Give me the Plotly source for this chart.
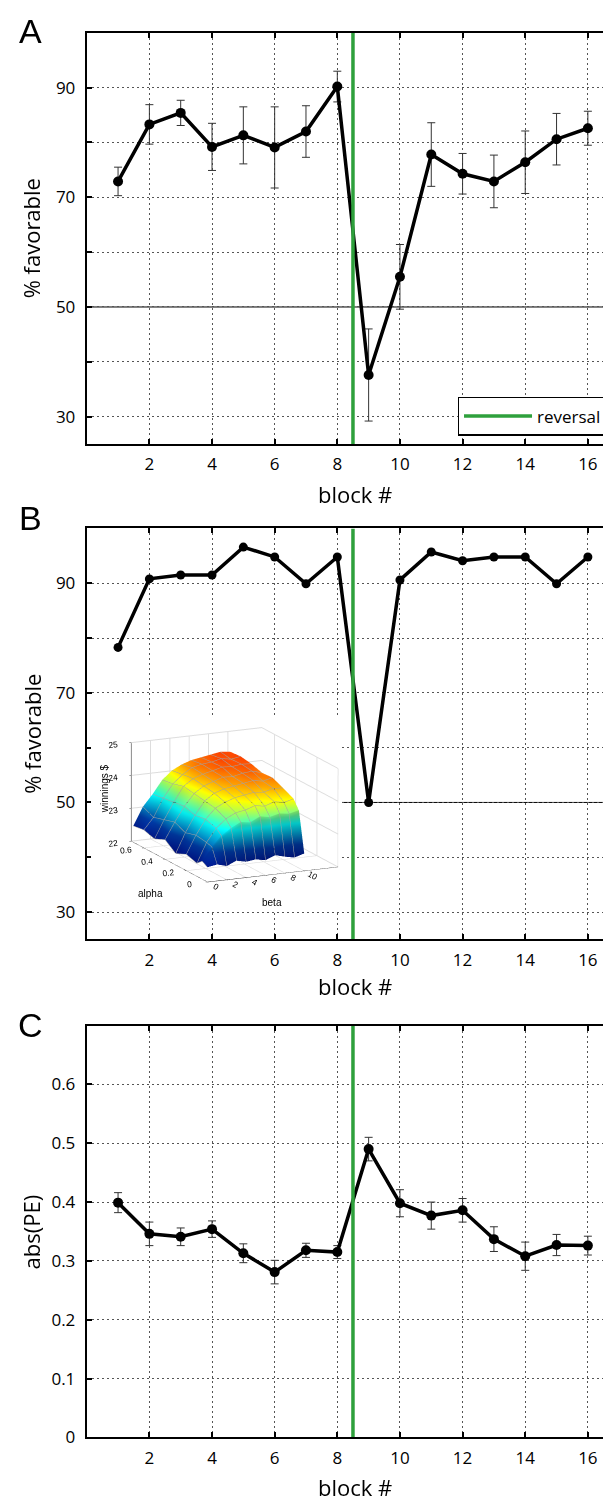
import plotly.graph_objects as go

# ---------------- data ----------------
blocks = list(range(1, 17))
pct_fav_A = [72.9, 83.3, 85.4, 79.2, 81.3, 79.1, 82.0, 90.2, 37.6, 55.5, 77.8, 74.3, 72.9, 76.4, 80.6, 82.6]
err_A = [2.6, 3.6, 2.3, 4.3, 5.2, 7.4, 4.7, 2.8, 8.4, 5.9, 5.8, 3.7, 4.8, 5.7, 4.7, 3.1]
pct_fav_B = [78.3, 90.8, 91.5, 91.5, 96.6, 94.8, 89.9, 94.8, 50.0, 90.6, 95.7, 94.1, 94.8, 94.8, 89.9, 94.8]
abs_pe_C = [0.399, 0.346, 0.341, 0.354, 0.313, 0.281, 0.318, 0.315, 0.490, 0.398, 0.377, 0.386, 0.337, 0.308, 0.327, 0.326]
err_C = [0.017, 0.020, 0.015, 0.014, 0.016, 0.020, 0.012, 0.011, 0.020, 0.023, 0.023, 0.020, 0.021, 0.024, 0.018, 0.016]

reversal_block = 8.5
chance_level = 50
x_ticks = [2, 4, 6, 8, 10, 12, 14, 16]
pct_ticks = [30, 40, 50, 60, 70, 80, 90]
pct_ticktext = ["30", "", "50", "", "70", "", "90"]
pe_ticks = [0, 0.1, 0.2, 0.3, 0.4, 0.5, 0.6]
pe_ticktext = ["0", "0.1", "0.2", "0.3", "0.4", "0.5", "0.6"]

# inset surface: winnings ($) over alpha (rows) x beta (columns)
inset_alpha = [0.0, 0.05, 0.1, 0.2, 0.3, 0.4, 0.5, 0.6, 0.7]
inset_beta = [0, 1, 2, 3, 4, 5, 6, 7, 8, 9, 10]
inset_winnings = [
    [22.45, 22.50, 22.42, 22.55, 22.48, 22.52, 22.46, 22.58, 22.50, 22.44, 22.53],
    [22.55, 22.95, 23.25, 23.45, 23.60, 23.55, 23.70, 23.65, 23.72, 23.68, 23.75],
    [22.40, 23.00, 23.40, 23.65, 23.80, 23.85, 23.95, 23.90, 24.00, 23.95, 24.02],
    [22.50, 23.05, 23.50, 23.80, 23.95, 24.05, 24.10, 24.15, 24.12, 24.20, 24.18],
    [22.35, 22.95, 23.45, 23.85, 24.05, 24.15, 24.20, 24.25, 24.30, 24.25, 24.32],
    [22.60, 23.10, 23.55, 23.90, 24.10, 24.20, 24.30, 24.28, 24.35, 24.38, 24.30],
    [22.45, 23.00, 23.50, 23.95, 24.15, 24.25, 24.32, 24.40, 24.38, 24.42, 24.40],
    [22.55, 22.90, 23.45, 23.85, 24.10, 24.28, 24.35, 24.38, 24.45, 24.40, 24.45],
    [22.50, 23.05, 23.40, 23.80, 24.05, 24.20, 24.30, 24.35, 24.40, 24.45, 24.42],
]

# ---------------- layout constants ----------------
W, H = 611, 1504
FONT = "Open Sans"
GREEN = "rgb(46,160,60)"
X_RANGE = [0, 16.93]
PCT_RANGE = [25, 100]
PE_RANGE = [0, 0.7]

def ydom(top_px, bot_px):
    return [1 - bot_px / H, 1 - top_px / H]

x_dom = [79 / W, 1.0]
dom_A = ydom(25, 439.3)
dom_B = ydom(524.3, 938.3)
dom_C = ydom(1025, 1440)

fig = go.Figure()

line_style = dict(color="black", width=3.5)
marker_style = dict(color="black", size=10, symbol="circle")
err_style = dict(color="#333", thickness=1, width=4)

# ---- Panel A ----
fig.add_trace(go.Scatter(x=blocks, y=pct_fav_A, mode="lines+markers",
                         line=line_style, marker=marker_style,
                         error_y=dict(type="data", array=err_A, visible=True, **err_style),
                         showlegend=False, xaxis="x", yaxis="y"))
fig.add_trace(go.Scatter(x=[reversal_block, reversal_block], y=PCT_RANGE, mode="lines",
                         line=dict(color=GREEN, width=3.5), name="reversal",
                         showlegend=True, xaxis="x", yaxis="y"))

# ---- Panel B ----
fig.add_trace(go.Scatter(x=blocks, y=pct_fav_B, mode="lines+markers",
                         line=line_style, marker=dict(color="black", size=9),
                         showlegend=False, xaxis="x2", yaxis="y2"))
fig.add_trace(go.Scatter(x=[reversal_block, reversal_block], y=PCT_RANGE, mode="lines",
                         line=dict(color=GREEN, width=3.5), showlegend=False,
                         xaxis="x2", yaxis="y2"))

# ---- Panel C ----
fig.add_trace(go.Scatter(x=blocks, y=abs_pe_C, mode="lines+markers",
                         line=line_style, marker=marker_style,
                         error_y=dict(type="data", array=err_C, visible=True, **err_style),
                         showlegend=False, xaxis="x3", yaxis="y3"))
fig.add_trace(go.Scatter(x=[reversal_block, reversal_block], y=PE_RANGE, mode="lines",
                         line=dict(color=GREEN, width=3.5), showlegend=False,
                         xaxis="x3", yaxis="y3"))

# ---- Inset surface ----
fig.add_trace(go.Surface(
    x=inset_beta, y=inset_alpha, z=inset_winnings,
    colorscale="Jet", cmin=22.2, cmax=25.2, showscale=False,
    lighting=dict(ambient=0.7, diffuse=0.5, specular=0.1, roughness=0.9),
    contours=dict(
        x=dict(show=True, start=0, end=10, size=1, color="rgba(60,60,60,0.6)", width=1),
        y=dict(show=True, start=0, end=0.7, size=0.1, color="rgba(60,60,60,0.6)", width=1),
    ),
    scene="scene",
))

common_x = dict(range=X_RANGE, domain=x_dom, tickvals=x_ticks,
                showgrid=True, gridcolor="#555", griddash="2px,3px", gridwidth=1,
                showline=True, linecolor="black", linewidth=2, mirror="ticks",
                ticks="inside", ticklen=5, tickwidth=2, tickcolor="black",
                tickfont=dict(family=FONT, size=17, color="black"),
                ticklabelstandoff=4, zeroline=False, fixedrange=True)
common_y = dict(showgrid=True, gridcolor="#555", griddash="2px,3px", gridwidth=1,
                showline=True, linecolor="black", linewidth=2, mirror="ticks",
                ticks="inside", ticklen=5, tickwidth=2, tickcolor="black",
                tickfont=dict(family=FONT, size=17, color="black"),
                ticklabelstandoff=6, zeroline=False, fixedrange=True)

axis3d = dict(showbackground=False, gridcolor="#ddd", showline=True, linecolor="black",
              ticks="outside", ticklen=2, showspikes=False, title=dict(text=""),
              tickfont=dict(family="Liberation Sans", size=10, color="black"))
f3d = dict(family="Liberation Sans", size=10, color="black")
EYE = 2.0

scene_ann = [
    dict(x=0, y=0.72, z=23.6, text="winnings $", textangle=-90, showarrow=False,
         xshift=-27, font=f3d),
    dict(x=0, y=0.1, z=22, text="alpha", showarrow=False, xshift=-46, yshift=-18, font=f3d),
    dict(x=7, y=0, z=22, text="beta", showarrow=False, xshift=-3, yshift=-29, font=f3d),
]

fig.update_layout(
    width=W, height=H, margin=dict(l=0, r=0, t=0, b=0),
    paper_bgcolor="white", plot_bgcolor="white",
    xaxis=dict(anchor="y", **common_x),
    yaxis=dict(anchor="x", domain=dom_A, range=PCT_RANGE, tickvals=pct_ticks,
               ticktext=pct_ticktext, **common_y),
    xaxis2=dict(anchor="y2", **common_x),
    yaxis2=dict(anchor="x2", domain=dom_B, range=PCT_RANGE, tickvals=pct_ticks,
                ticktext=pct_ticktext, **common_y),
    xaxis3=dict(anchor="y3", **common_x),
    yaxis3=dict(anchor="x3", domain=dom_C, range=PE_RANGE, tickvals=pe_ticks,
                ticktext=pe_ticktext, **common_y),
    legend=dict(x=451 / W, xanchor="left", y=1 - 431 / H, yanchor="bottom",
                bgcolor="white", bordercolor="black", borderwidth=1.5, itemwidth=68,
                font=dict(family=FONT, size=17, color="black")),
    scene=dict(
        domain=dict(x=[83 / W, 335 / W], y=[1 - 908 / H, 1 - 715 / H]),
        bgcolor="white",
        xaxis=dict(range=[0, 13.5], tickvals=[0, 2, 4, 6, 8, 10], **axis3d),
        yaxis=dict(range=[0, 0.72], tickvals=[0, 0.2, 0.4, 0.6], **axis3d),
        zaxis=dict(range=[22, 25], tickvals=[22, 23, 24, 25], **axis3d),
        aspectmode="manual", aspectratio=dict(x=1.50, y=1.89, z=1.06),
        camera=dict(eye=dict(x=-0.496 * EYE, y=-0.845 * EYE, z=0.201 * EYE),
                    center=dict(x=-0.172, y=0.078, z=-0.098),
                    projection=dict(type="orthographic")),
        annotations=scene_ann,
    ),
)

# chance line at 50 %
for xr, yr in [("x domain", "y"), ("x2 domain", "y2")]:
    fig.add_shape(type="line", xref=xr, yref=yr, x0=0, x1=1, y0=chance_level, y1=chance_level,
                  line=dict(color="black", width=1), layer="below")

ann = []
for letter, ycen in [("A", 23), ("B", 514), ("C", 1024)]:
    ann.append(dict(text=letter, x=23 / W, y=1 - ycen / H, xref="paper", yref="paper",
                    showarrow=False, xanchor="center", yanchor="middle",
                    font=dict(family="Liberation Sans", size=34, color="black")))
for txt, ycen in [("% favorable", (25 + 439.3) / 2), ("% favorable", (524.3 + 938.3) / 2),
                  ("abs(PE)", (1025 + 1440) / 2)]:
    ann.append(dict(text=txt, x=24 / W, y=1 - ycen / H, xref="paper", yref="paper",
                    showarrow=False, textangle=-90, xanchor="center", yanchor="middle",
                    font=dict(family=FONT, size=22, color="black")))
for ycen in [490, 985, 1490]:
    ann.append(dict(text="block #", x=348 / W, y=1 - ycen / H, xref="paper", yref="paper",
                    showarrow=False, xanchor="center", yanchor="middle",
                    font=dict(family=FONT, size=22, color="black")))
fig.update_layout(annotations=ann)

fig.write_html("out.html")
